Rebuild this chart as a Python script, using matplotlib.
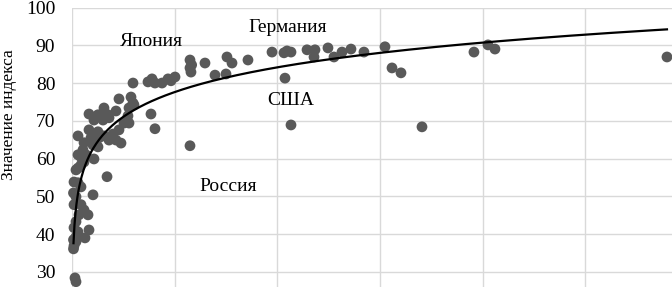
import matplotlib
matplotlib.use("Agg")
import matplotlib.pyplot as plt
import numpy as np

# x: условные единицы (шаг сетки 20), y: значение индекса
x_vals = [
    0.58, 0.78, 0.29, 0.39, 0.29, 0.78, 0.78, 1.17, 2.53, 3.31,
    0.39, 0.78, 1.36, 2.34, 3.12, 0.39, 1.75, 0.29, 0.78, 4.09,
    0.39, 1.17, 1.75, 0.78, 6.82, 1.17, 1.75, 1.17, 4.28, 1.75,
    2.34, 2.14, 2.73, 2.34, 4.09, 5.06, 1.17, 3.31, 3.70, 5.06,
    5.26, 6.23, 7.21, 7.98, 8.57, 9.54, 9.15, 10.13, 11.10, 10.90,
    7.21, 6.04, 4.28, 5.06, 7.01, 3.31, 6.23, 8.57, 11.10, 12.07,
    11.88, 11.49, 9.15, 15.38, 16.16, 11.88, 14.80, 15.58, 16.16, 17.53,
    18.70, 19.28, 20.06, 22.98, 22.98, 23.17, 22.98, 23.30, 25.90, 27.85,
    29.99, 30.18, 31.16, 34.27, 38.95, 41.28, 41.87, 42.65, 41.48, 42.65,
    45.77, 47.32, 47.13, 49.85, 51.02, 52.58, 54.33, 56.86, 60.95, 62.32,
    64.07, 68.16, 78.28, 81.01, 82.37, 115.87,
]
y_vals = [
    28.4, 27.4, 36.1, 36.9, 38.5, 38.0, 39.3, 40.6, 39.0, 41.1,
    41.7, 43.3, 45.1, 46.4, 45.1, 47.8, 47.8, 50.9, 49.9, 50.4,
    53.8, 53.6, 52.5, 57.0, 55.2, 57.5, 58.3, 61.0, 59.9, 60.4,
    59.1, 62.3, 61.0, 64.2, 63.6, 63.1, 66.0, 67.6, 65.5, 67.1,
    65.5, 66.0, 64.9, 66.5, 64.9, 64.1, 67.6, 69.4, 69.4, 71.3,
    70.8, 70.2, 70.2, 71.6, 71.6, 71.8, 73.4, 72.6, 73.4, 74.2,
    74.7, 76.3, 75.8, 71.8, 67.9, 80.0, 80.3, 81.1, 80.0, 80.0,
    81.1, 80.6, 81.6, 86.1, 84.0, 82.9, 63.4, 84.8, 85.3, 82.1,
    82.4, 86.9, 85.3, 86.1, 88.2, 88.0, 88.5, 88.2, 81.3, 68.9,
    88.8, 88.8, 86.9, 89.3, 86.9, 88.2, 89.0, 88.2, 89.6, 84.0,
    82.7, 68.4, 88.2, 90.1, 89.0, 86.9,
]

# логарифмический тренд y = a + b*ln(x)
trend_a = 49.3
trend_b = 9.45

labels = ["Япония", "Германия", "США", "Россия"]
label_x = [15.4, 41.9, 42.6, 30.4]
label_y = [90.9, 94.8, 75.5, 52.5]

y_ticks = [30, 40, 50, 60, 70, 80, 90, 100]
x_grid = [0, 20, 40, 60, 80, 100]

plt.rcParams["font.family"] = ["Liberation Serif", "DejaVu Serif"]

fig = plt.figure(figsize=(6.72, 2.87), dpi=100)
ax = fig.add_axes([72 / 672, 0.0, 600 / 672, 279.5 / 287])

ax.scatter(x_vals, y_vals, s=60, color="#595959", edgecolors="none", zorder=3, clip_on=False)

xs = np.linspace(min(x_vals), max(x_vals), 600)
ax.plot(xs, trend_a + trend_b * np.log(xs), color="black", lw=1.6, zorder=4)

for t, tx, ty in zip(labels, label_x, label_y):
    ax.text(tx, ty, t, ha="center", va="center", fontsize=14, zorder=5)

ax.set_xlim(0, 116.85)
ax.set_ylim(26, 100)
ax.set_yticks(y_ticks)
ax.set_xticks(x_grid)
ax.tick_params(axis="y", length=0, pad=12, labelsize=14)
ax.tick_params(axis="x", length=0, labelbottom=False)
ax.grid(True, color="#d9d9d9", lw=1.0, zorder=0)
ax.set_axisbelow(True)
for sp in ax.spines.values():
    sp.set_visible(False)
ax.set_ylabel("Значение индекса", fontsize=12.5)
ax.yaxis.set_label_coords(-0.092, 0.615)

fig.savefig("out.png", dpi=100)
